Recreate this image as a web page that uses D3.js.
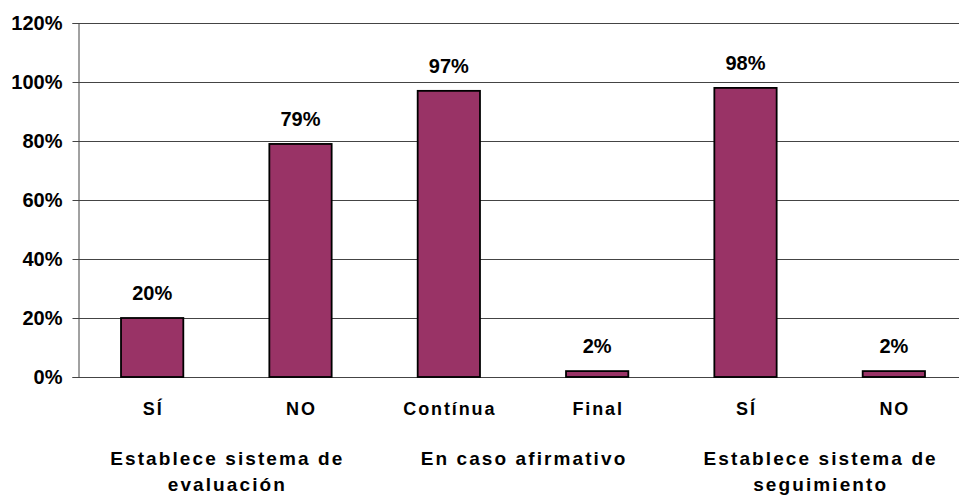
<!DOCTYPE html>
<html lang="es">
<head>
<meta charset="UTF-8">
<script src="https://d3js.org/d3.v7.min.js"></script>
<style>
  body { margin: 0; background: #fff; }
  text { font-family: "Liberation Sans", Arial, sans-serif; font-weight: bold; fill: #000; }
</style>
</head>
<body>
<div id="chart"></div>
<script>
// data
var categories = ["SÍ", "NO", "Contínua", "Final", "SÍ ", "NO "];
var values = [0.20, 0.79, 0.97, 0.02, 0.98, 0.02];
var valueLabels = ["20%", "79%", "97%", "2%", "98%", "2%"];
var groups = [
  { lines: ["Establece sistema de", "evaluación"], from: 0, to: 1 },
  { lines: ["En caso afirmativo"], from: 2, to: 3 },
  { lines: ["Establece sistema de", "seguimiento"], from: 4, to: 5 }
];
var yTicks = [0, 0.2, 0.4, 0.6, 0.8, 1.0, 1.2];

var W = 959, H = 498;
var margin = { top: 23, right: 0, bottom: 121, left: 78 };
var plotRight = 968; // plot runs a bit past the right edge of the picture

var svg = d3.select("#chart").append("svg")
  .attr("width", W)
  .attr("height", H);

var x = d3.scaleBand()
  .domain(categories)
  .range([margin.left, plotRight])
  .paddingInner(0.58)
  .paddingOuter(0.29);

var y = d3.scaleLinear()
  .domain([0, 1.2])
  .range([H - margin.bottom, margin.top]);

// gridlines
svg.append("g")
  .selectAll("line")
  .data(yTicks)
  .enter().append("line")
  .attr("x1", margin.left)
  .attr("x2", plotRight)
  .attr("y1", function(d) { return Math.round(y(d)) + 0.5; })
  .attr("y2", function(d) { return Math.round(y(d)) + 0.5; })
  .attr("stroke", "#444")
  .attr("stroke-width", 1);

// y axis
var yAxis = svg.append("g")
  .attr("transform", "translate(" + (margin.left + 0.5) + ",0)")
  .call(d3.axisLeft(y).tickValues(yTicks).tickSize(6).tickPadding(10)
    .tickFormat(function(d) { return Math.round(d * 100) + "%"; }));
yAxis.select(".domain").attr("stroke", "#444");
yAxis.selectAll(".tick line").attr("stroke", "#444");
yAxis.selectAll(".tick text")
  .attr("font-size", "20px")
  .attr("font-family", "Liberation Sans, Arial, sans-serif")
  .attr("font-weight", "bold")
  .attr("fill", "#000");

// bars
svg.selectAll(".bar")
  .data(values)
  .enter().append("rect")
  .attr("class", "bar")
  .attr("x", function(d, i) { return x(categories[i]); })
  .attr("y", function(d) { return y(d); })
  .attr("width", x.bandwidth())
  .attr("height", function(d) { return y(0) - y(d); })
  .attr("fill", "#993366")
  .attr("stroke", "#000")
  .attr("stroke-width", 1.8);

// value labels
svg.selectAll(".vlab")
  .data(values)
  .enter().append("text")
  .attr("class", "vlab")
  .attr("x", function(d, i) { return x(categories[i]) + x.bandwidth() / 2; })
  .attr("y", function(d) { return y(d) - 18; })
  .attr("text-anchor", "middle")
  .attr("font-size", "20px")
  .text(function(d, i) { return valueLabels[i]; });

// category labels
svg.selectAll(".clab")
  .data(categories)
  .enter().append("text")
  .attr("class", "clab")
  .attr("x", function(d) { return x(d) + x.bandwidth() / 2 + 1; })
  .attr("y", 415)
  .attr("text-anchor", "middle")
  .attr("font-size", "18px")
  .attr("letter-spacing", "1.9px")
  .text(function(d) { return d.trim(); });

// group labels
groups.forEach(function(g) {
  var cx = (x(categories[g.from]) + x(categories[g.to]) + x.bandwidth()) / 2;
  g.lines.forEach(function(line, j) {
    svg.append("text")
      .attr("x", cx + 1)
      .attr("y", 465 + j * 26)
      .attr("text-anchor", "middle")
      .attr("font-size", "19px")
      .attr("letter-spacing", "2.1px")
      .text(line);
  });
});
</script>
</body>
</html>
